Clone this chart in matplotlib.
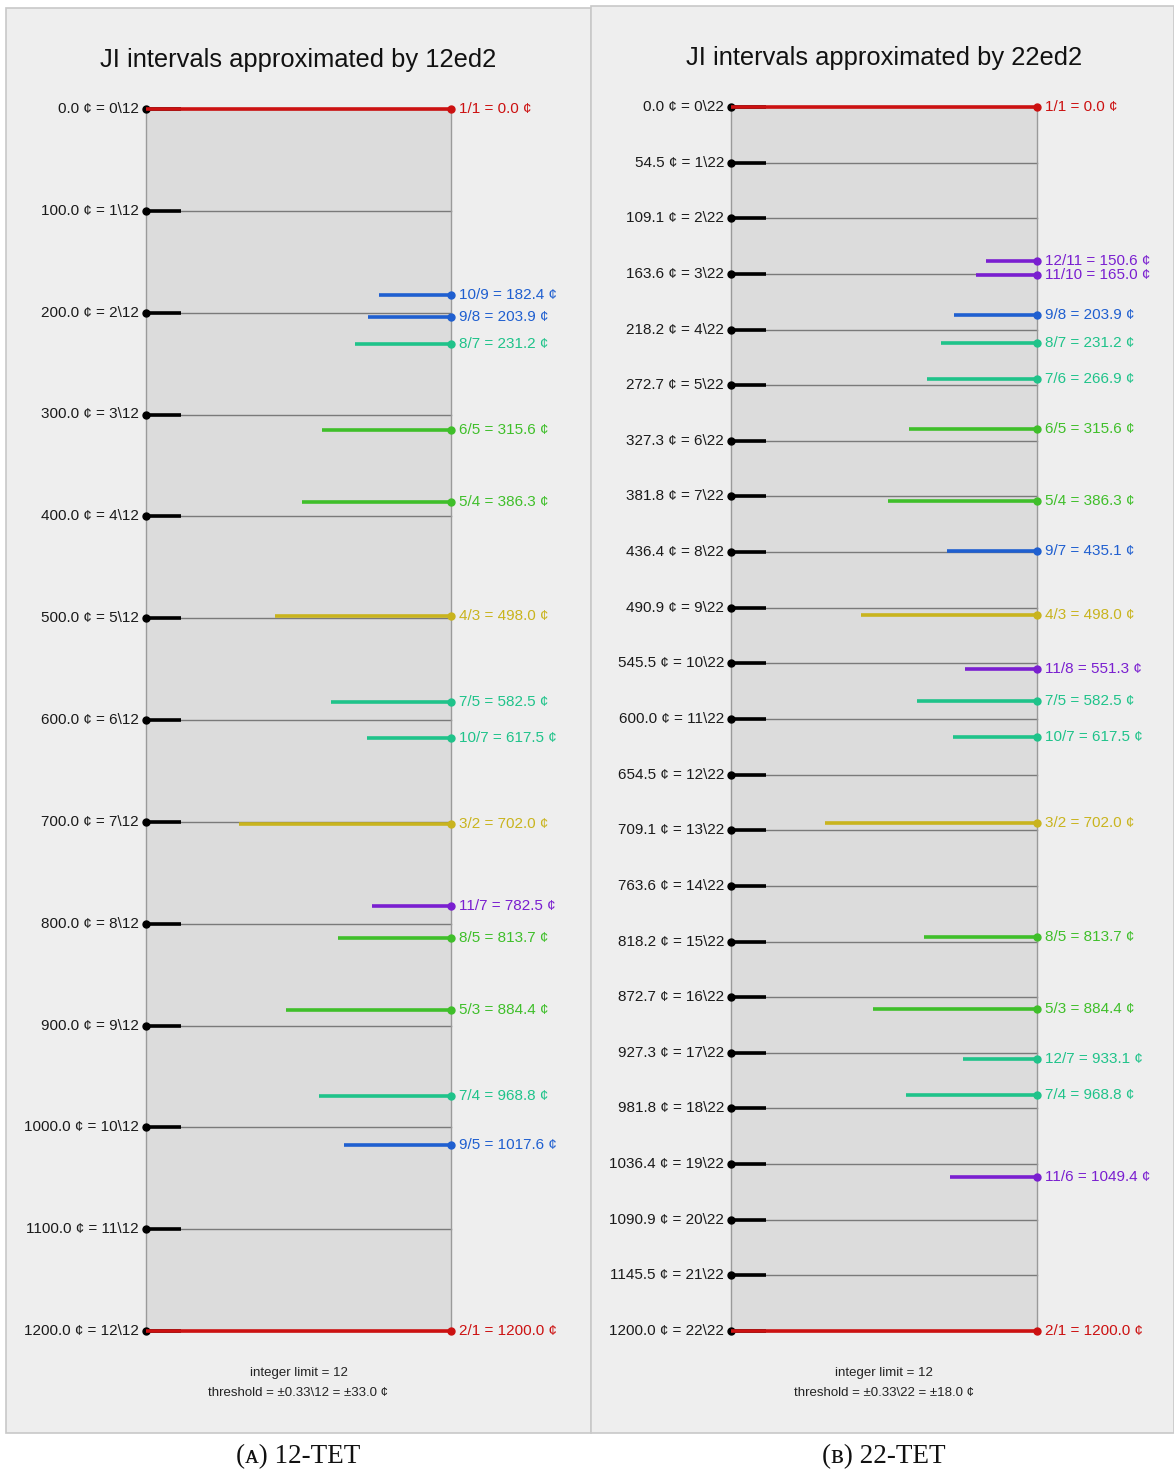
import matplotlib
matplotlib.use("Agg")
import matplotlib.pyplot as plt
from matplotlib.patches import Rectangle

plt.rcParams['font.family'] = ['Liberation Sans', 'DejaVu Sans']

# equal-step grids
steps_12 = [0.0, 100.0, 200.0, 300.0, 400.0, 500.0, 600.0, 700.0, 800.0, 900.0,
            1000.0, 1100.0, 1200.0]
steps_22 = [0.0, 54.5, 109.1, 163.6, 218.2, 272.7, 327.3, 381.8, 436.4, 490.9,
            545.5, 600.0, 654.5, 709.1, 763.6, 818.2, 872.7, 927.3, 981.8,
            1036.4, 1090.9, 1145.5, 1200.0]

# JI intervals that fall within the threshold of a step
ratios_12 = ['1/1', '10/9', '9/8', '8/7', '6/5', '5/4', '4/3', '7/5', '10/7',
             '3/2', '11/7', '8/5', '5/3', '7/4', '9/5', '2/1']
cents_12 = [0.0, 182.4, 203.9, 231.2, 315.6, 386.3, 498.0, 582.5, 617.5,
            702.0, 782.5, 813.7, 884.4, 968.8, 1017.6, 1200.0]
limit_12 = [1, 9, 9, 7, 5, 5, 3, 7, 7, 3, 11, 5, 5, 7, 9, 1]
weight_12 = [1.0, 0.236, 0.272, 0.315, 0.423, 0.489, 0.577, 0.393, 0.275,
             0.695, 0.259, 0.370, 0.541, 0.433, 0.351, 1.0]

ratios_22 = ['1/1', '12/11', '11/10', '9/8', '8/7', '7/6', '6/5', '5/4', '9/7',
             '4/3', '11/8', '7/5', '10/7', '3/2', '8/5', '5/3', '12/7', '7/4',
             '11/6', '2/1']
cents_22 = [0.0, 150.6, 165.0, 203.9, 231.2, 266.9, 315.6, 386.3, 435.1,
            498.0, 551.3, 582.5, 617.5, 702.0, 813.7, 884.4, 933.1, 968.8,
            1049.4, 1200.0]
limit_22 = [1, 11, 11, 9, 7, 7, 5, 5, 9, 3, 11, 7, 7, 3, 5, 5, 7, 7, 11, 1]
weight_22 = [1.0, 0.167, 0.199, 0.271, 0.314, 0.359, 0.418, 0.487, 0.294,
             0.575, 0.235, 0.392, 0.275, 0.693, 0.369, 0.536, 0.242, 0.428,
             0.284, 1.0]

limit_colors = {1: '#cc1111', 3: '#c9b41e', 5: '#3fbf2a', 7: '#1fc38a',
                9: '#1f5fd0', 11: '#7a1fd0'}

W, H = 1174, 1472
fig = plt.figure(figsize=(W / 100, H / 100), dpi=100)
fig.patch.set_facecolor('white')


def fx(px):
    return px / W


def fy(py):
    return 1 - py / H


def panel(box, inner, steps, n, ratios, cents, limits, weights, caption):
    # panel background
    x0, y0, x1, y1 = box
    fig.patches.append(Rectangle((fx(x0), fy(y1)), fx(x1 - x0), (y1 - y0) / H,
                                 transform=fig.transFigure, facecolor='#eeeeee',
                                 edgecolor='#c8c8c8', lw=1.2, zorder=-1))
    l, t, r, b = inner
    ax = fig.add_axes([fx(l), fy(b), fx(r - l), (b - t) / H])
    ax.set_xlim(0, 1)
    ax.set_ylim(1200, 0)
    ax.set_facecolor('#dcdcdc')
    for s in ['top', 'bottom']:
        ax.spines[s].set_visible(False)
    for s in ['left', 'right']:
        ax.spines[s].set_color('#9a9a9a')
        ax.spines[s].set_linewidth(1.0)
    ax.set_xticks([])
    ax.set_yticks([])

    ax.set_title(f"JI intervals approximated by {n}ed2", fontsize=18.4,
                 color='#111111', pad=30)

    for k, c in enumerate(steps):
        ax.plot([0, 1], [c, c], color='#7a7a7a', lw=1.0, zorder=2, clip_on=False)
        ax.plot([0, 0.115], [c, c], color='black', lw=2.6, zorder=3,
                solid_capstyle='butt', clip_on=False)
        ax.plot([0], [c], 'o', color='black', ms=5, zorder=4, clip_on=False)
        ax.annotate(f"{c:.1f} ¢ = {k}\\{n}", (0, c), xytext=(-5, 0),
                    textcoords='offset points', ha='right', va='center',
                    fontsize=11, color='#1a1a1a')

    for ratio, c, lim, w in zip(ratios, cents, limits, weights):
        col = limit_colors[lim]
        ax.plot([1 - w, 1], [c, c], color=col, lw=2.6, zorder=5,
                solid_capstyle='butt', clip_on=False)
        ax.plot([1], [c], 'o', color=col, ms=5, zorder=6, clip_on=False)
        ax.annotate(f"{ratio} = {c:.1f} ¢", (1, c), xytext=(6, 0),
                    textcoords='offset points', ha='left', va='center',
                    fontsize=11, color=col)

    thr = 0.33 * 1200 / n
    ax.annotate(f"integer limit = 12", (0.5, 1200), xytext=(0, -30),
                textcoords='offset points', ha='center', va='center',
                fontsize=9.5, color='#222222')
    ax.annotate(f"threshold = ±0.33\\{n} = ±{thr:.1f} ¢", (0.5, 1200),
                xytext=(0, -45), textcoords='offset points', ha='center',
                va='center', fontsize=9.5, color='#222222')

    fig.text(fx((l + r) / 2), fy(1457), caption, ha='center', va='center',
             fontsize=19.5, family=['Liberation Serif', 'DejaVu Serif'],
             color='#111111')


panel((6, 8, 591, 1433), (146, 109, 451, 1331), steps_12, 12,
      ratios_12, cents_12, limit_12, weight_12, "(ᴀ) 12-TET")
panel((591, 6, 1174, 1433), (731, 107, 1037, 1331), steps_22, 22,
      ratios_22, cents_22, limit_22, weight_22, "(ʙ) 22-TET")

fig.savefig('out.png', dpi=100)
